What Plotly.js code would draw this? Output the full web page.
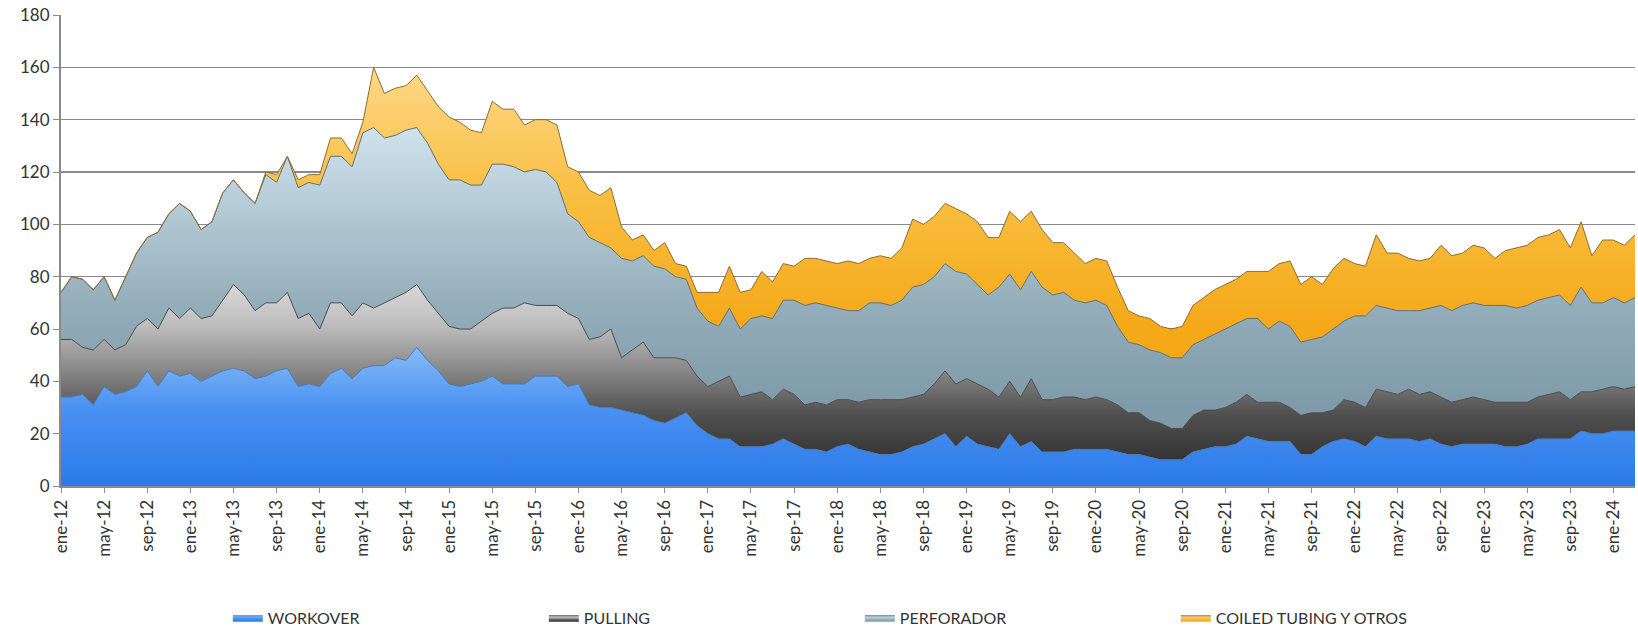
<!DOCTYPE html>
<html>
<head>
<meta charset="utf-8">
<script src="https://cdn.plot.ly/plotly-3.0.1.min.js"></script>
<style>
html,body{margin:0;padding:0;background:#fff;}
#chart{width:1638px;height:630px;}
</style>
</head>
<body>
<div id="chart"></div>
<script>
// Month names (Spanish) and years for category labels
const monthNames = ['ene','feb','mar','abr','may','jun','jul','ago','sep','oct','nov','dic'];
const startYear = 2012;
const nMonths = 147; // ene-12 .. mar-24

const months = [];
for (let i = 0; i < nMonths; i++) {
  const y = startYear + Math.floor(i / 12);
  months.push(monthNames[i % 12] + '-' + String(y).slice(2));
}
const tickLabels = months.filter((m, i) => i % 4 === 0);

const workover = [
  34,34,35,31,38,35,36,38,44,38,
  44,42,43,40,42,44,45,44,41,42,
  44,45,38,39,38,43,45,41,45,46,
  46,49,48,53,48,44,39,38,39,40,
  42,39,39,39,42,42,42,38,39,31,
  30,30,29,28,27,25,24,26,28,23,
  20,18,18,15,15,15,16,18,16,14,
  14,13,15,16,14,13,12,12,13,15,
  16,18,20,15,19,16,15,14,20,15,
  17,13,13,13,14,14,14,14,13,12,
  12,11,10,10,10,13,14,15,15,16,
  19,18,17,17,17,12,12,15,17,18,
  17,15,19,18,18,18,17,18,16,15,
  16,16,16,16,15,15,16,18,18,18,
  18,21,20,20,21,21,21
];
const pulling = [
  22,22,18,21,18,17,18,23,20,22,
  24,22,25,24,23,27,32,29,26,28,
  26,29,26,27,22,27,25,24,25,22,
  24,23,26,24,23,22,22,22,21,23,
  24,29,29,31,27,27,27,28,25,25,
  27,30,20,24,28,24,25,23,20,19,
  18,22,24,19,20,21,17,19,19,17,
  18,18,18,17,18,20,21,21,20,19,
  19,21,24,24,22,23,22,20,20,19,
  24,20,20,21,20,19,20,19,18,16,
  16,14,14,12,12,14,15,14,15,16,
  16,14,15,15,13,15,16,13,12,15,
  15,15,18,18,17,19,18,18,18,17,
  17,18,17,16,17,17,16,16,17,18,
  15,15,16,17,17,16,17
];
const perforador = [
  18,24,26,23,24,19,26,28,31,37,
  36,44,37,34,36,41,40,39,41,49,
  46,52,50,50,55,56,56,57,65,69,
  63,62,62,60,60,57,56,57,55,52,
  57,55,54,50,52,51,47,38,37,39,
  36,31,38,34,33,35,34,31,31,26,
  25,21,26,26,29,29,31,34,36,38,
  38,38,35,34,35,37,37,36,38,42,
  42,41,41,43,40,38,36,42,41,41,
  41,43,40,40,37,37,37,36,30,27,
  26,27,27,27,27,27,27,29,30,30,
  29,32,28,31,31,28,28,29,31,30,
  33,35,32,32,32,30,32,32,35,35,
  36,36,36,37,37,36,37,37,37,37,
  36,40,34,33,34,33,34
];
const coiled = [
  0,0,0,0,0,0,0,0,0,0,
  0,0,0,0,0,0,0,0,0,1,
  3,0,3,3,4,7,7,5,4,23,
  17,18,17,20,20,22,24,22,21,20,
  24,21,22,18,19,20,22,18,19,18,
  18,23,12,8,8,6,10,5,5,6,
  11,13,16,14,11,17,14,14,13,18,
  17,17,17,19,18,17,18,18,20,26,
  23,23,23,24,23,24,22,19,24,26,
  23,22,20,19,18,15,16,17,15,12,
  11,12,10,11,12,15,16,17,17,17,
  18,18,22,22,25,22,24,20,23,24,
  20,19,27,21,22,20,19,19,23,21,
  20,22,22,18,21,23,23,24,24,25,
  22,25,18,24,22,22,24
];

const seriesNames = ['WORKOVER','PULLING','PERFORADOR','COILED TUBING Y OTROS'];

function trace(name, y, lineColor, grad) {
  return {
    type: 'scatter',
    mode: 'lines',
    name: name,
    x: months,
    y: y,
    stackgroup: 'one',
    line: {color: lineColor, width: 1},
    fillgradient: grad,
    hoverinfo: 'x+y+name'
  };
}

const data = [
  trace(seriesNames[0], workover, '#4a78b8',
    {type: 'vertical', start: 0, stop: 55,
     colorscale: [[0,'#2a7ae8'],[0.55,'#4a92f2'],[1,'#8cc0f6']]}),
  trace(seriesNames[1], pulling, '#4a4a4a',
    {type: 'vertical', start: 5, stop: 80,
     colorscale: [[0,'#2c2c2c'],[0.3,'#505050'],[0.55,'#8e8e8e'],[0.75,'#bdbdbd'],[1,'#dddddd']]}),
  trace(seriesNames[2], perforador, '#5d6e78',
    {type: 'vertical', start: 30, stop: 140,
     colorscale: [[0,'#7f9aa8'],[0.35,'#93adb9'],[1,'#d2e5ef']]}),
  trace(seriesNames[3], coiled, '#8c6d35',
    {type: 'vertical', start: 60, stop: 160,
     colorscale: [[0,'#f5a818'],[0.5,'#f9be40'],[1,'#fdd888']]})
];

const layout = {
  width: 1638,
  height: 630,
  margin: {l: 61, r: 3, t: 15, b: 144, autoexpand: false},
  paper_bgcolor: '#ffffff',
  plot_bgcolor: '#ffffff',
  font: {family: 'Lato, "Open Sans", sans-serif', color: '#333333', size: 17},
  showlegend: true,
  legend: {
    orientation: 'h',
    x: 0.106, xanchor: 'left',
    y: -0.244, yanchor: 'top',
    traceorder: 'normal',
    entrywidth: 271,
    entrywidthmode: 'pixels',
    itemwidth: 30,
    font: {size: 16, color: '#333333', family: 'Lato, sans-serif'}
  },
  xaxis: {
    type: 'category',
    range: [0, nMonths - 1],
    tickmode: 'array',
    tickvals: tickLabels,
    ticktext: tickLabels,
    tickangle: -90,
    ticks: 'outside',
    ticklen: 5,
    tickcolor: '#8a8a8a',
    showline: true,
    linecolor: '#8a8a8a',
    linewidth: 2,
    showgrid: false,
    zeroline: false,
    automargin: false,
    tickfont: {size: 17, color: '#333333'}
  },
  yaxis: {
    range: [0, 180],
    dtick: 20,
    tick0: 0,
    ticks: 'outside',
    ticklen: 6,
    tickcolor: '#8a8a8a',
    showline: true,
    linecolor: '#8a8a8a',
    linewidth: 2,
    showgrid: true,
    gridcolor: '#8a8a8a',
    gridwidth: 1.5,
    zeroline: false,
    automargin: false,
    tickfont: {size: 17, color: '#333333'}
  }
};

Plotly.newPlot('chart', data, layout, {displayModeBar: false, staticPlot: true});
</script>
</body>
</html>
